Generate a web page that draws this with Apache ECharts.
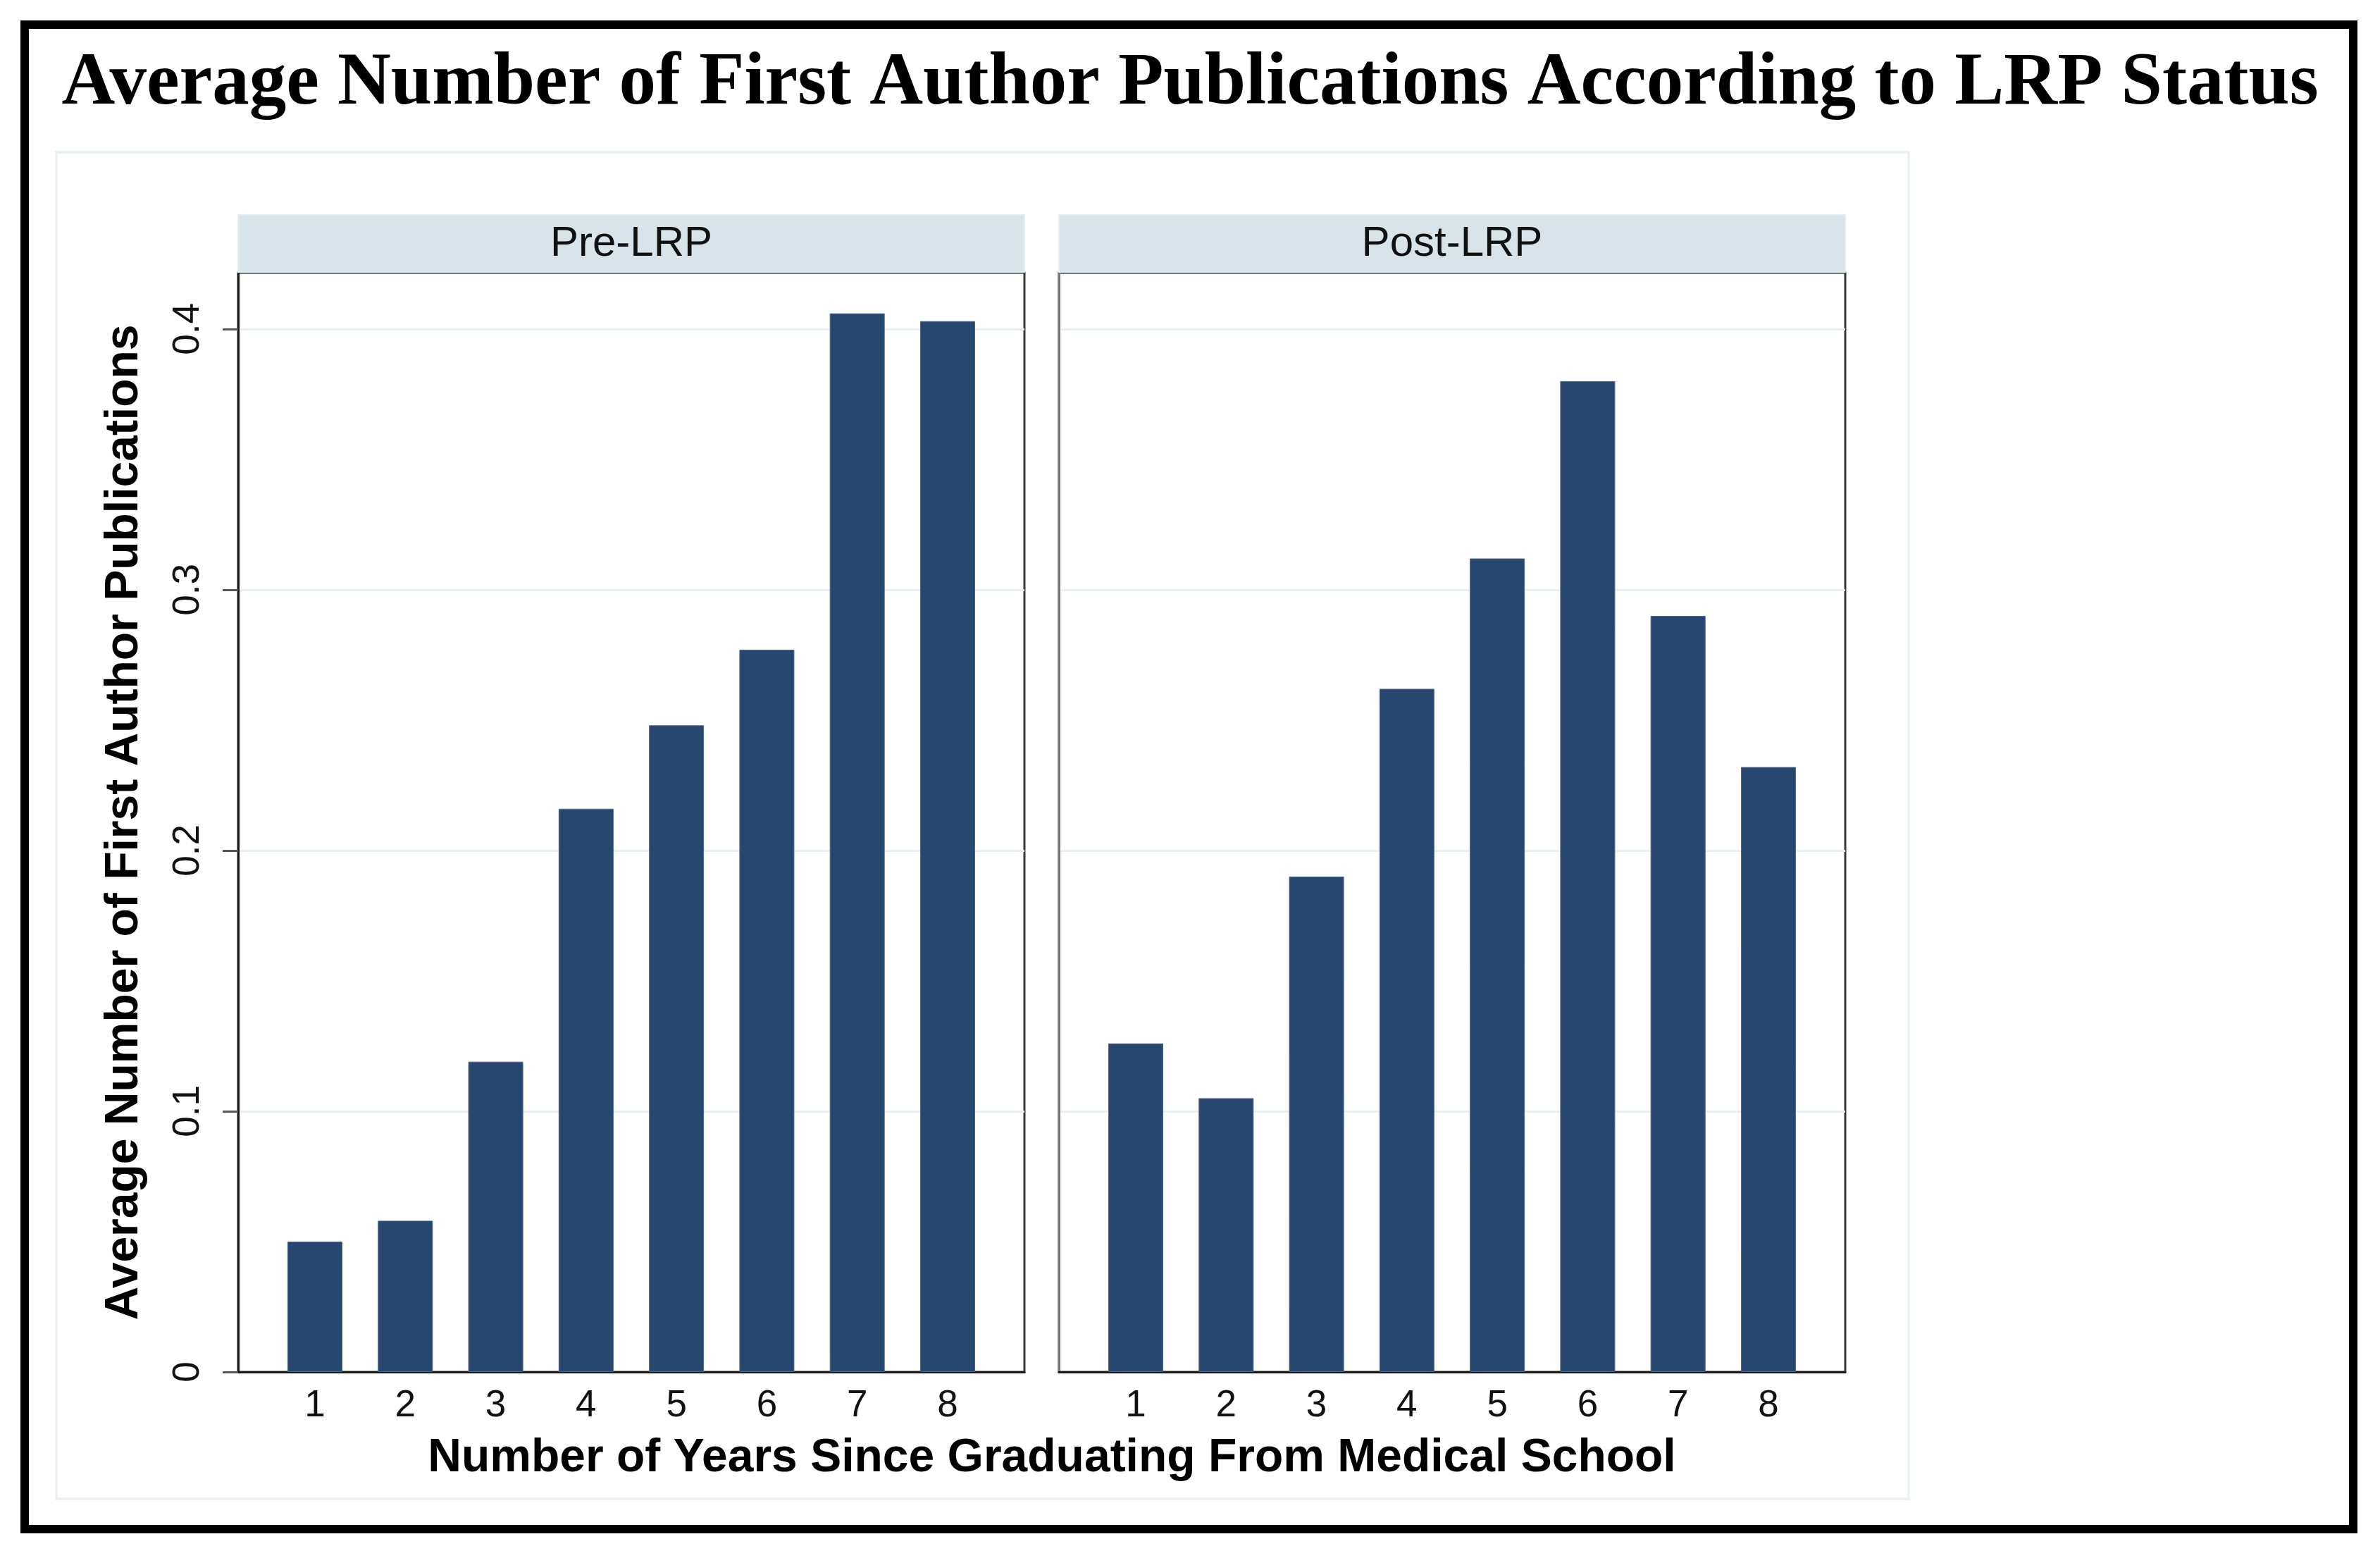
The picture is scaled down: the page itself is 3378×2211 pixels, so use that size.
<!DOCTYPE html>
<html><head><meta charset="utf-8">
<script src="https://cdn.jsdelivr.net/npm/echarts@6/dist/echarts.min.js"></script>
<style>html,body{margin:0;padding:0;background:#fff}#c{width:3378px;height:2211px}</style>
</head><body><div id="c"></div>
<script>
const chartTitle = 'Average Number of First Author Publications According to LRP Status';
const years = [1, 2, 3, 4, 5, 6, 7, 8];
const preLRP = [0.050, 0.058, 0.119, 0.216, 0.248, 0.277, 0.406, 0.403];
const postLRP = [0.126, 0.105, 0.190, 0.262, 0.312, 0.380, 0.290, 0.232];
const yTicks = [0, 0.1, 0.2, 0.3, 0.4];
const panelNames = ['Pre-LRP', 'Post-LRP'];
const yTitle = 'Average Number of First Author Publications';
const xTitle = 'Number of Years Since Graduating From Medical School';

const SANS = 'Liberation Sans, Arial, Helvetica, sans-serif';
const BAR = '#27476e';
const GRIDC = '#e9f0f2';
const PANEL_LEFT = [338, 1503], PANEL_W = 1116, PANEL_TOP = 387, PANEL_H = 1560;

const chart = echarts.init(document.getElementById('c'), null, {renderer: 'canvas'});

const grids = PANEL_LEFT.map(l => ({left: l, top: PANEL_TOP, width: PANEL_W, height: PANEL_H,
  show: true, borderColor: '#3a3a3a', borderWidth: 3, backgroundColor: '#fff', containLabel: false}));

const xAxes = [0, 1].map(i => ({
  type: 'value', gridIndex: i, min: 0.15, max: 8.85,
  axisLine: {show: true, onZero: false, lineStyle: {color: '#1a1a1a', width: 3}},
  axisTick: {show: false, customValues: years},
  axisLabel: {customValues: years, fontSize: 53, color: '#111', fontFamily: SANS, margin: 22},
  splitLine: {show: false}
}));

const yAxes = [0, 1].map(i => ({
  type: 'value', gridIndex: i, min: 0, max: 0.4216,
  axisLine: {show: true, lineStyle: {color: i === 0 ? '#1a1a1a' : '#777', width: 3}},
  axisTick: {show: i === 0, customValues: yTicks, length: 22, lineStyle: {color: '#555', width: 3}},
  axisLabel: {show: i === 0, customValues: yTicks, rotate: 90, fontSize: 53, color: '#111', fontFamily: SANS, margin: 44,
    formatter: v => String(v)},
  splitLine: {show: true, lineStyle: {color: GRIDC, width: 3}},
  name: i === 0 ? yTitle : '', nameLocation: 'middle', nameRotate: 90, nameGap: 128,
  nameTextStyle: {fontSize: 66, fontWeight: 'bold', color: '#000', fontFamily: SANS}
}));

const series = [preLRP, postLRP].map((vals, i) => ({
  type: 'bar', xAxisIndex: i, yAxisIndex: i, barWidth: 78,
  data: years.map((y, k) => [y, vals[k]]),
  itemStyle: {color: BAR, borderColor: '#4d6688', borderWidth: 1},
  silent: true
}));

const graphics = [
  {type: 'rect', z: 0, shape: {x: 35, y: 35, width: 3305, height: 2135}, style: {fill: 'none', stroke: '#000', lineWidth: 12}},
  {type: 'rect', z: 0, shape: {x: 80, y: 216, width: 2629, height: 1911}, style: {fill: 'none', stroke: '#eaf2f3', lineWidth: 4}},
  {type: 'text', z: 10, style: {x: 1493, y: 2070, text: xTitle, textAlign: 'center', textVerticalAlign: 'middle',
    font: 'bold 66px ' + SANS, fill: '#000'}}
];
PANEL_LEFT.forEach((l, i) => {
  graphics.push({type: 'rect', z: 5, shape: {x: l, y: 305, width: PANEL_W, height: 81}, style: {fill: '#d9e4ea', stroke: '#e3ecef', lineWidth: 2}});
  graphics.push({type: 'text', z: 6, style: {x: l + PANEL_W / 2, y: 346, text: panelNames[i], textAlign: 'center', textVerticalAlign: 'middle',
    font: '60px ' + SANS, fill: '#111'}});
});

chart.setOption({
  animation: false,
  backgroundColor: '#fff',
  title: {text: chartTitle, left: 'center', top: 62,
    textStyle: {fontFamily: 'Liberation Serif, Times New Roman, serif', fontWeight: 'bold', fontSize: 105, color: '#000'}},
  grid: grids, xAxis: xAxes, yAxis: yAxes, series: series, graphic: graphics
});
</script></body></html>
